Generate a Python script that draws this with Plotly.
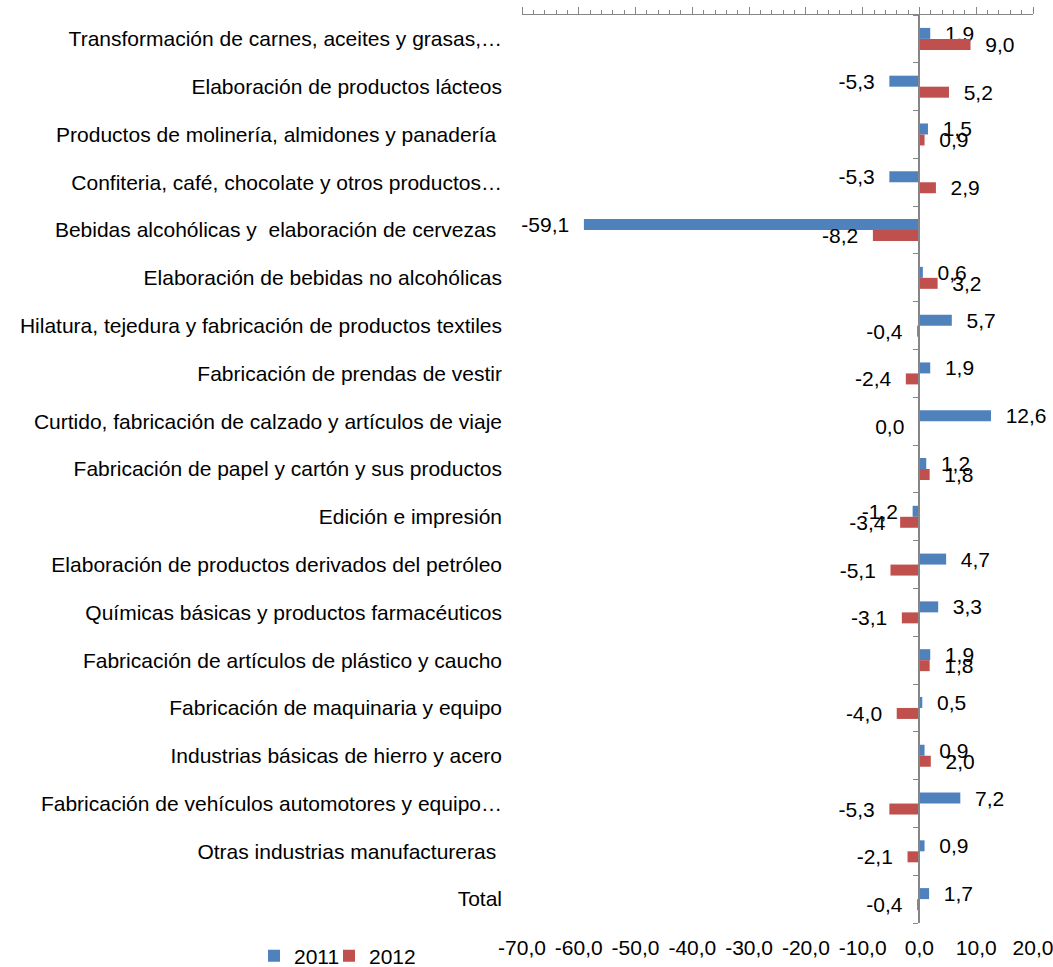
import plotly.graph_objects as go

categories = [
    "Transformación de carnes, aceites y grasas,…",
    "Elaboración de productos lácteos",
    "Productos de molinería, almidones y panadería ",
    "Confiteria, café, chocolate y otros productos…",
    "Bebidas alcohólicas y  elaboración de cervezas ",
    "Elaboración de bebidas no alcohólicas",
    "Hilatura, tejedura y fabricación de productos textiles",
    "Fabricación de prendas de vestir",
    "Curtido, fabricación de calzado y artículos de viaje",
    "Fabricación de papel y cartón y sus productos",
    "Edición e impresión",
    "Elaboración de productos derivados del petróleo",
    "Químicas básicas y productos farmacéuticos",
    "Fabricación de artículos de plástico y caucho",
    "Fabricación de maquinaria y equipo",
    "Industrias básicas de hierro y acero",
    "Fabricación de vehículos automotores y equipo…",
    "Otras industrias manufactureras ",
    "Total",
]
values_2011 = [1.9, -5.3, 1.5, -5.3, -59.1, 0.6, 5.7, 1.9, 12.6, 1.2, -1.2, 4.7, 3.3, 1.9, 0.5, 0.9, 7.2, 0.9, 1.7]
values_2012 = [9.0, 5.2, 0.9, 2.9, -8.2, 3.2, -0.4, -2.4, -0.02, 1.8, -3.4, -5.1, -3.1, 1.8, -4.0, 2.0, -5.3, -2.1, -0.4]
x_ticks = [-70, -60, -50, -40, -30, -20, -10, 0, 10, 20]
x_ticktext = [f"{v:.1f}".replace(".", ",") for v in x_ticks]

BLUE = "#4F81BD"
RED = "#C0504D"
AXIS = "#868686"
FONT = "Liberation Sans, Arial, sans-serif"
FS = 21
NB = "\u00a0\u00a0"

W, H = 1053, 967


def fmt(v):
    s = f"{v:.1f}"
    if s == "-0.0":
        s = "0.0"
    return s.replace(".", ",")


def labels(vals):
    return [NB + fmt(v) if v >= 0 else fmt(v) + NB for v in vals]


fig = go.Figure()
series = [("2011", values_2011, BLUE, "legend"), ("2012", values_2012, RED, "legend2")]
for name, vals, color, leg in series:
    fig.add_trace(go.Bar(
        y=categories, x=vals, name=name, orientation="h",
        marker=dict(color=color, line=dict(width=0)),
        text=labels(vals), texttemplate="%{text}", textposition="outside",
        constraintext="none", cliponaxis=False,
        textfont=dict(size=FS, color="black", family=FONT),
        hoverinfo="skip", legend=leg,
    ))

# helper trace so that the top value axis and the category axis at zero get drawn
fig.add_trace(go.Scatter(x=[None], y=[None], xaxis="x2", yaxis="y2",
                         mode="markers", showlegend=False, hoverinfo="skip"))

legend_common = dict(orientation="h", xref="container", yref="container",
                     y=11 / H, xanchor="left", yanchor="middle",
                     font=dict(size=FS), itemwidth=30, bgcolor="rgba(0,0,0,0)")

fig.update_layout(
    width=W, height=H,
    margin=dict(l=522, r=20, t=15, b=44, autoexpand=False),
    paper_bgcolor="white", plot_bgcolor="white",
    font=dict(family=FONT, size=FS, color="black"),
    separators=",.",
    barmode="group", bargap=0.54, bargroupgap=0.0,
    showlegend=True,
    legend=dict(x=254 / W, **legend_common),
    legend2=dict(x=329 / W, **legend_common),
    xaxis=dict(range=[-70, 20], tickvals=x_ticks, ticktext=x_ticktext,
               showline=False, ticks="", zeroline=False, showgrid=False,
               ticklabelstandoff=10, tickfont=dict(size=FS), automargin=False,
               ticklabeloverflow="allow"),
    xaxis2=dict(range=[-70, 20], overlaying="x", side="top", anchor="y",
                tickvals=x_ticks, ticks="outside", ticklen=7, tickwidth=1, tickcolor=AXIS,
                minor=dict(dtick=2, tick0=-70, ticks="outside", ticklen=4, tickcolor=AXIS),
                showline=True, linecolor=AXIS, linewidth=1,
                showticklabels=False, showgrid=False, zeroline=False, automargin=False),
    yaxis=dict(autorange="reversed", showline=False, ticks="", showgrid=False,
               ticklabelstandoff=19, tickfont=dict(size=FS), automargin=False),
    yaxis2=dict(range=[len(categories) - 0.5, -0.5], overlaying="y", anchor="free",
                position=70 / 90, side="left",
                tickvals=[i - 0.5 for i in range(len(categories) + 1)],
                ticks="outside", ticklen=5, tickcolor=AXIS, tickwidth=1,
                showline=True, linecolor=AXIS, linewidth=2,
                showticklabels=False, showgrid=False, zeroline=False, automargin=False),
)

fig.write_html("out.html", config={"displayModeBar": False},
               post_script="document.body.style.margin='0';document.body.style.overflow='hidden';")
